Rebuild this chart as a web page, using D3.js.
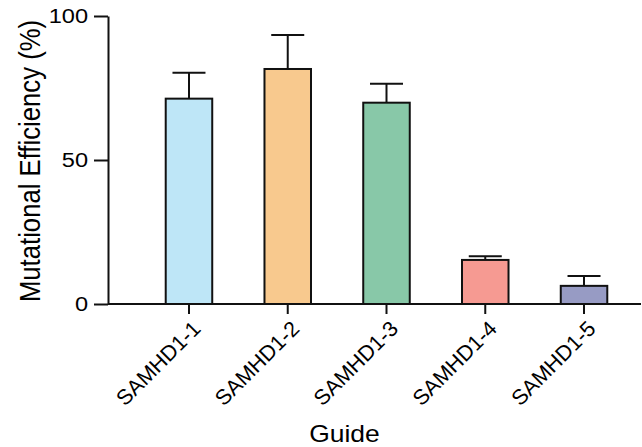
<!DOCTYPE html>
<html>
<head>
<meta charset="utf-8">
<script src="https://cdn.jsdelivr.net/npm/d3@7"></script>
<style>
  html, body { margin: 0; padding: 0; background: #fff; }
  svg { display: block; }
  text { font-family: Arial, "Liberation Sans", Helvetica, sans-serif; fill: #000; }
</style>
</head>
<body>
<svg id="chart" width="642" height="447"></svg>
<script>
// Mutational efficiency per SAMHD1 guide (mean and SD, %)
const guides = ["SAMHD1-1", "SAMHD1-2", "SAMHD1-3", "SAMHD1-4", "SAMHD1-5"];
const efficiency = [71.3, 81.6, 69.9, 15.3, 6.3];
const errorSD = [9.0, 11.8, 6.6, 1.3, 3.4];
const barColors = ["#BEE6F7", "#F8C98E", "#88C8A8", "#F69A92", "#979BC4"];
const yTicks = [0, 50, 100];

// Horizontal stretch applied to the upright lettering
const SX = 1.15;

const svg = d3.select("#chart");
const axisX = 108, baseY = 304, topY = 16, axisEnd = 641;

const y = d3.scaleLinear().domain([0, 100]).range([baseY, topY]);
const x = d3.scaleBand()
  .domain(guides)
  .range([139.6, 633.4])
  .paddingInner(0.529)
  .paddingOuter(0.2645);

// Bars
svg.append("g").selectAll("rect")
  .data(guides)
  .join("rect")
  .attr("x", d => x(d))
  .attr("y", (d, i) => y(efficiency[i]))
  .attr("width", x.bandwidth())
  .attr("height", (d, i) => y(0) - y(efficiency[i]))
  .attr("fill", (d, i) => barColors[i])
  .attr("stroke", "#111")
  .attr("stroke-width", 2);

// Error bars (upper whisker only)
const capHalf = 16.5;
const err = svg.append("g").attr("stroke", "#111").attr("stroke-width", 2);
guides.forEach((g, i) => {
  const cx = x(g) + x.bandwidth() / 2;
  const top = y(efficiency[i] + errorSD[i]);
  err.append("line")
    .attr("x1", cx).attr("x2", cx)
    .attr("y1", y(efficiency[i])).attr("y2", top);
  err.append("line")
    .attr("x1", cx - capHalf).attr("x2", cx + capHalf)
    .attr("y1", top).attr("y2", top);
});

// Y axis
const yAxis = svg.append("g")
  .attr("transform", `translate(${axisX},0)`)
  .call(d3.axisLeft(y).tickValues(yTicks).tickSize(14).tickSizeOuter(0).tickPadding(7));
yAxis.select(".domain").attr("stroke", "#111").attr("stroke-width", 2);
yAxis.selectAll(".tick line").attr("stroke", "#111").attr("stroke-width", 2);
yAxis.selectAll(".tick text")
  .attr("font-size", 20.5)
  .attr("font-family", "Arial, 'Liberation Sans', sans-serif")
  .attr("fill", "#000")
  .attr("x", -20 / SX)
  .attr("transform", `scale(${SX},1)`);

// X axis line and ticks
const xAxis = svg.append("g").attr("stroke", "#111").attr("stroke-width", 2);
xAxis.append("line")
  .attr("x1", axisX).attr("x2", axisEnd)
  .attr("y1", baseY).attr("y2", baseY);
xAxis.selectAll("line.tick")
  .data(guides)
  .join("line")
  .attr("class", "tick")
  .attr("x1", d => x(d) + x.bandwidth() / 2)
  .attr("x2", d => x(d) + x.bandwidth() / 2)
  .attr("y1", baseY).attr("y2", baseY + 10);

// Rotated category labels
svg.append("g").selectAll("text")
  .data(guides)
  .join("text")
  .attr("transform", d => `translate(${x(d) + x.bandwidth() / 2 + 13},${baseY + 26}) rotate(-45)`)
  .attr("text-anchor", "end")
  .attr("font-size", 21.5)
  .text(d => d);

// Axis titles
svg.append("text")
  .attr("transform", `translate(39.5,161) scale(${SX},1) rotate(-90)`)
  .attr("text-anchor", "middle")
  .attr("font-size", 25.7)
  .text("Mutational Efficiency (%)");

svg.append("text")
  .attr("transform", `translate(344.5,441.5) scale(${SX},1)`)
  .attr("text-anchor", "middle")
  .attr("font-size", 23)
  .text("Guide");
</script>
</body>
</html>
